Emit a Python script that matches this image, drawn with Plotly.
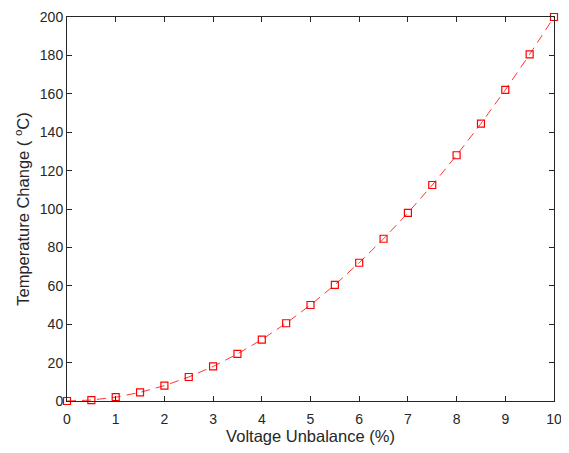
import plotly.graph_objects as go

voltage_unbalance = [0, 0.5, 1, 1.5, 2, 2.5, 3, 3.5, 4, 4.5, 5, 5.5, 6, 6.5, 7, 7.5, 8, 8.5, 9, 9.5, 10]
temperature_change = [0, 0.5, 2, 4.5, 8, 12.5, 18, 24.5, 32, 40.5, 50, 60.5, 72, 84.5, 98, 112.5, 128, 144.5, 162, 180.5, 200]
x_ticks = list(range(0, 11))
y_ticks = list(range(0, 201, 20))

FONT = "Liberation Sans, Arial, sans-serif"
TXT = "#262626"

fig = go.Figure()
fig.add_trace(go.Scatter(
    x=voltage_unbalance, y=temperature_change,
    mode="lines+markers",
    line=dict(color="#ff0000", width=0.8, dash="9px,6px"),
    marker=dict(symbol="square-open", size=7, color="#ff0000", line=dict(width=1.2)),
    cliponaxis=False,
    showlegend=False,
))

axis_common = dict(
    showgrid=False, zeroline=False, showline=True, linecolor=TXT, linewidth=1,
    mirror="ticks", ticks="inside", ticklen=5, tickcolor=TXT, automargin=False,
    tickfont=dict(family=FONT, size=14, color=TXT),
)
fig.update_layout(
    width=561, height=445,
    margin=dict(l=59, r=15, t=9, b=52),
    paper_bgcolor="white", plot_bgcolor="white",
    xaxis=dict(range=[0, 10], tickvals=x_ticks, ticklabelstandoff=5,
               title=dict(text="Voltage Unbalance (%)", standoff=2,
                          font=dict(family=FONT, size=16.5, color=TXT)),
               **axis_common),
    yaxis=dict(range=[0, 200], tickvals=y_ticks,
               title=dict(text="Temperature Change ( <sup>o</sup>C)", standoff=6,
                          font=dict(family=FONT, size=16.5, color=TXT)),
               **axis_common),
)
fig.write_html("out.html")
